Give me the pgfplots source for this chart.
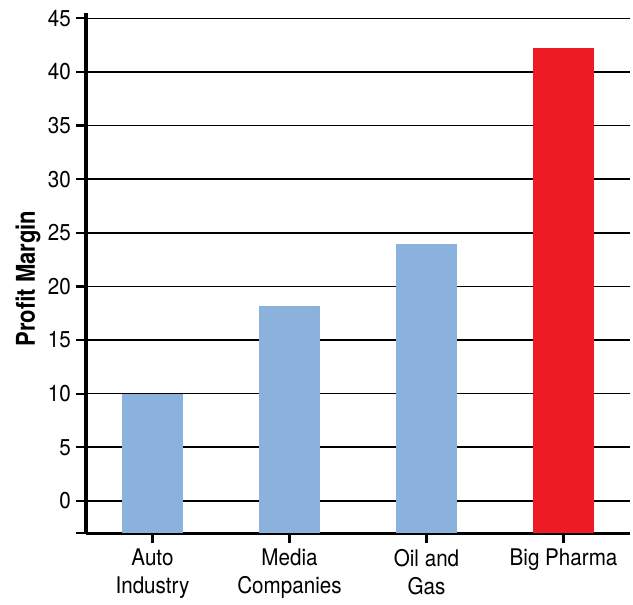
\documentclass[border=0pt]{standalone}
\usepackage{fontspec}
\setmainfont{TeX Gyre Heros}[FakeStretch=0.9]
\newfontfamily\ylabfont{TeX Gyre Heros}[FakeStretch=0.85]
\usepackage{pgfplots}
\usepackage{pgfplotstable}
\pgfplotsset{compat=1.18}
\definecolor{barblue}{RGB}{138,178,220}
\definecolor{barred}{RGB}{237,28,36}

\pgfplotstableread{
x y
0 10.0
1 18.2
2 24.0
}\bluedata
\pgfplotstableread{
x y
3 42.2
}\reddata

\begin{document}
\begin{tikzpicture}
\begin{axis}[
  name=ax,
  set layers,
  scale only axis,
  width=544bp, height=520bp,
  xmin=-0.485, xmax=3.485,
  ymin=-3, ymax=45.5,
  axis x line*=bottom,
  axis y line*=left,
  axis line style={line width=3bp, black, on layer=axis foreground},
  xtick={0,1,2,3},
  xticklabels={Auto\\Industry, Media\\Companies, Oil and\\Gas, Big Pharma},
  ytick={0,5,...,45},
  extra y ticks={-3},
  extra y tick labels={},
  extra y tick style={grid=none},
  tick align=outside,
  major tick length=10bp,
  tick style={line width=2.2bp, black},
  ymajorgrids,
  major grid style={line width=1.6bp, black},
  /pgf/number format/assume math mode=true,
  tick label style={font=\fontsize{23}{28}\selectfont},
  xticklabel style={align=center, anchor=north, inner sep=6bp},
  yticklabel style={inner sep=5bp},
  ylabel={Profit Margin},
  ylabel style={font=\ylabfont\fontsize{26}{30}\selectfont\bfseries,
    at={(axis description cs:0,0.4894)}, anchor=center, yshift=58bp},
]
\addplot[draw=none, mark=none, forget plot,
  error bars/.cd, y dir=minus, y explicit, error mark=none,
  error bar style={line width=61bp, draw=barblue, solid, line cap=butt}]
  table[x=x, y=y, y error expr=\thisrow{y}+3] {\bluedata};
\addplot[draw=none, mark=none, forget plot,
  error bars/.cd, y dir=minus, y explicit, error mark=none,
  error bar style={line width=61bp, draw=barred, solid, line cap=butt}]
  table[x=x, y=y, y error expr=\thisrow{y}+3] {\reddata};
\end{axis}
\path (ax.south west) ++(-86bp,-68bp) rectangle ++(633bp,601bp);
\end{tikzpicture}
\end{document}
